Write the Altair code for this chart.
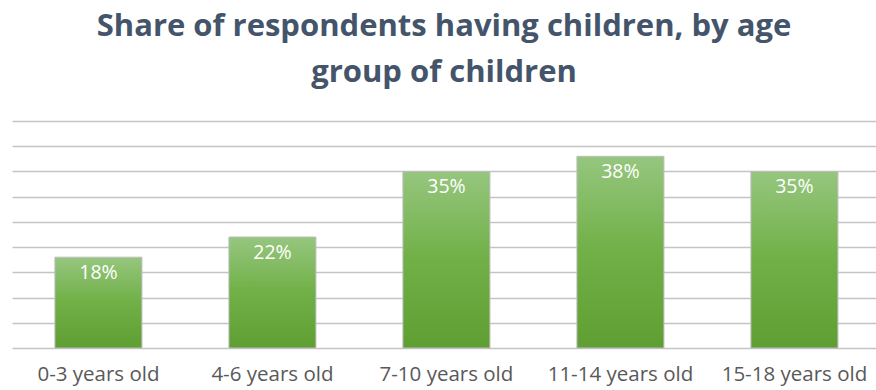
import altair as alt
import pandas as pd

categories = ["0-3 years old", "4-6 years old", "7-10 years old", "11-14 years old", "15-18 years old"]
values = [18, 22, 35, 38, 35]
labels = ["18%", "22%", "35%", "38%", "35%"]
grid_values = [0, 5, 10, 15, 20, 25, 30, 35, 40, 45]

df = pd.DataFrame({"cat": categories, "val": values, "lab": labels})

FONT = "Open Sans"

x_enc = alt.X(
    "cat:N",
    sort=categories,
    title=None,
    scale=alt.Scale(paddingInner=0.5, paddingOuter=0.2328, align=0.53),
    axis=alt.Axis(
        labelAngle=0,
        labelFontSize=20.5,
        labelFont=FONT,
        labelColor="#595959",
        labelPadding=16,
        ticks=False,
        domain=False,
        grid=False,
    ),
)
y_enc = alt.Y(
    "val:Q",
    title=None,
    scale=alt.Scale(domain=[0, 45], nice=False),
    axis=alt.Axis(
        values=grid_values,
        labels=False,
        ticks=False,
        domain=False,
        grid=True,
        gridColor="#C4C4C4",
        gridWidth=1.5,
    ),
)

gradient = alt.Gradient(
    gradient="linear",
    stops=[
        alt.GradientStop(color="#96C67F", offset=0),
        alt.GradientStop(color="#70B046", offset=0.5),
        alt.GradientStop(color="#5E9E33", offset=1),
    ],
    x1=0, x2=0, y1=0, y2=1,
)

base = alt.Chart(df).encode(x=x_enc, y=y_enc)

bars = base.mark_bar(color=gradient, stroke="#BDBDBD", strokeWidth=1)

text = base.mark_text(
    baseline="top", dy=7, color="#FFFFFF", fontSize=19.5, font=FONT
).encode(text="lab:N")

chart = (
    alt.layer(bars, text)
    .properties(
        width=864,
        height=227,
        autosize=alt.AutoSizeParams(type="none"),
        padding={"left": 12, "top": 121, "right": 0, "bottom": 42},
        title=alt.TitleParams(
            text=["Share of respondents having children, by age", "group of children"],
            font=FONT,
            fontSize=31,
            fontWeight="bold",
            color="#44546A",
            lineHeight=46,
            anchor="middle",
            offset=32,
        ),
        background="white",
    )
    .configure_view(stroke=None)
)

chart.save("out.html", embed_options={"renderer": "svg", "actions": False})
